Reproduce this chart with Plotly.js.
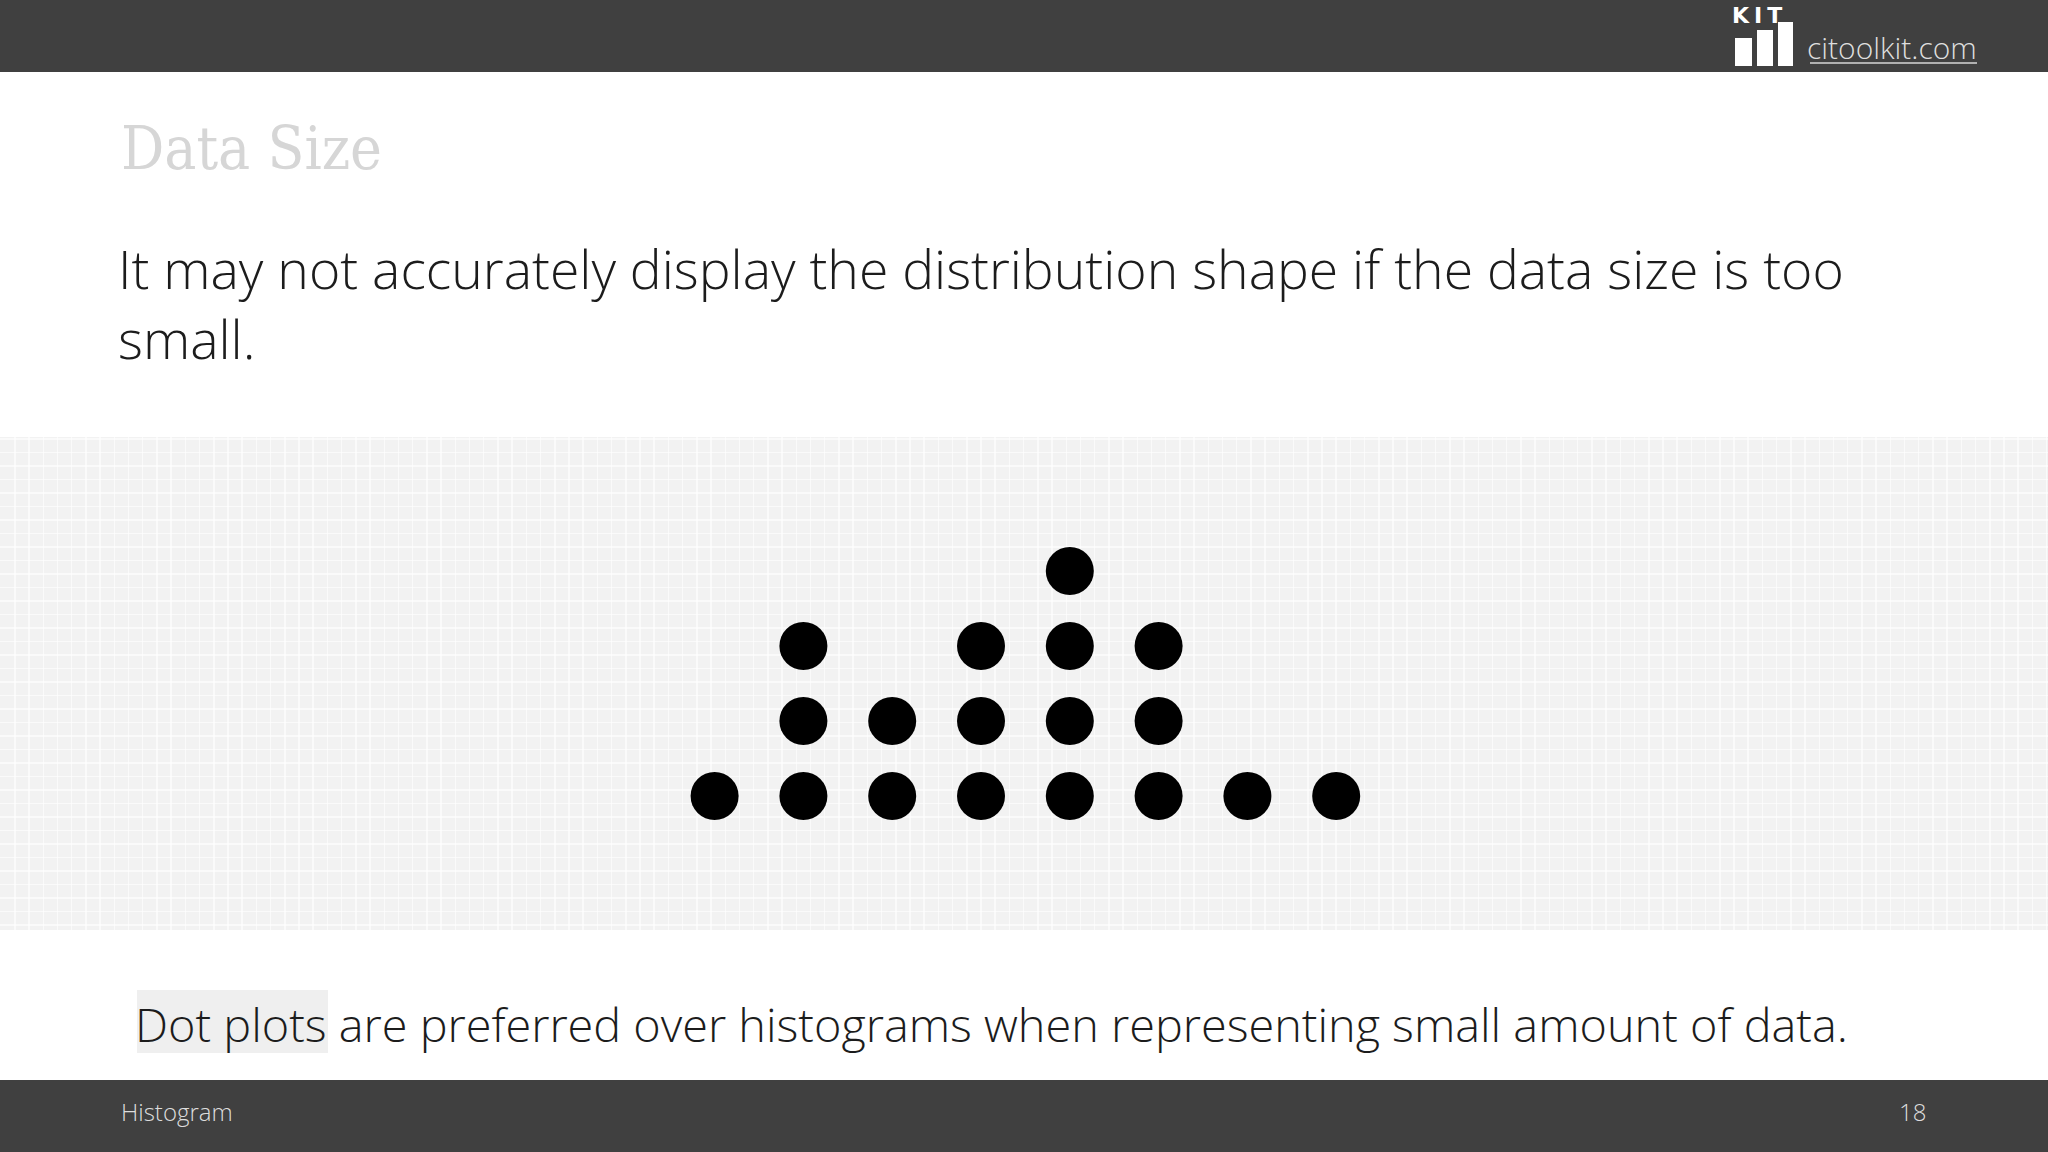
<!DOCTYPE html>
<html>
<head>
<meta charset="utf-8">
<script src="https://cdn.plot.ly/plotly-3.0.1.min.js"></script>
<style>
html,body{margin:0;padding:0;background:#fff;}
#chart{width:2048px;height:1152px;}
</style>
</head>
<body>
<div id="chart"></div>
<script>
// ---- data ----
var bins = [1, 2, 3, 4, 5, 6, 7, 8];
var counts = [1, 3, 2, 3, 4, 3, 1, 1];

var titleText = "Data Size";
var bodyLine1 = "It may not accurately display the distribution shape if the data size is too";
var bodyLine2 = "small.";
var highlightWord = "Dot plots";
var noteRest = " are preferred over histograms when representing small amount of data.";
var footerLeft = "Histogram";
var pageNumber = "18";
var siteText = "citoolkit.com";
var logoText = "KIT";

// build dot stacks from the counts
var dotX = [], dotY = [];
for (var i = 0; i < bins.length; i++) {
  for (var k = 1; k <= counts[i]; k++) { dotX.push(bins[i]); dotY.push(k); }
}

// layout geometry (pixels)
var W = 2048, H = 1152, panelTop = 437, panelBottom = 930;
function py(p) { return (panelBottom - p) / (panelBottom - panelTop); }
function px(p) { return p / W; }

function rect(x0, y0, x1, y1, color) {
  return {type: 'rect', xref: 'paper', yref: 'paper', x0: px(x0), x1: px(x1), y0: py(y1), y1: py(y0),
          fillcolor: color, line: {width: 0}, layer: 'above'};
}
function note(text, x, y, size, color, opts) {
  var a = {text: text, xref: 'paper', yref: 'paper', x: px(x), y: py(y), xanchor: 'left', yanchor: 'middle',
           showarrow: false, font: {family: 'Open Sans', size: size, color: color, weight: 300}};
  if (opts) { for (var key in opts) { if (key === 'font') { for (var f in opts.font) a.font[f] = opts.font[f]; } else a[key] = opts[key]; } }
  return a;
}

var shapes = [
  rect(0, 0, W, 72, '#404040'),
  rect(0, 1080, W, H, '#404040'),
  rect(137, 990, 328, 1053, '#efefef'),
  // logo bars
  rect(1735, 38, 1752, 66, '#ffffff'),
  rect(1757, 30, 1773, 66, '#ffffff'),
  rect(1778, 22, 1793, 66, '#ffffff'),
  {type: 'line', xref: 'paper', yref: 'paper', x0: px(1810), x1: px(1977), y0: py(63), y1: py(63),
   line: {color: '#d6d6d6', width: 1.5}}
];
shapes[2].layer = 'below';

var annotations = [
  note(titleText, 119, 148, 60, '#d6d6d6', {font: {family: 'DejaVu Serif Condensed, DejaVu Serif', weight: 400}}),
  note(bodyLine1, 116, 268, 53.5, '#1c1c1c'),
  note(bodyLine2, 116, 338, 53.5, '#1c1c1c'),
  note(highlightWord + noteRest, 133, 1024, 46.8, '#1c1c1c'),
  note(footerLeft, 119, 1111, 24, '#dddddd'),
  note(pageNumber, 1912, 1111, 24, '#dddddd', {xanchor: 'center'}),
  note(siteText, 1805, 47, 30, '#dedede'),
  note('<b><span style="letter-spacing:5px">' + logoText + '</span></b>', 1731, 15.5, 22, '#ffffff',
       {borderpad: 0, font: {family: 'DejaVu Sans', weight: 700}})
];

var trace = {
  type: 'scatter', mode: 'markers', x: dotX, y: dotY,
  marker: {size: 48, color: '#000000', line: {width: 0}},
  hoverinfo: 'skip', showlegend: false
};

var xUnit = 88.8, yUnit = 75, x1Pix = 714.6, y1Pix = 796;
var layout = {
  width: W, height: H,
  margin: {l: 0, r: 0, t: panelTop, b: H - panelBottom, pad: 0},
  paper_bgcolor: '#ffffff', plot_bgcolor: '#f2f2f2',
  xaxis: {range: [1 - x1Pix / xUnit, 1 + (W - x1Pix) / xUnit], showgrid: true, gridcolor: 'rgba(255,255,255,0.6)',
          gridwidth: 1.5, dtick: 0.16, tick0: 0, zeroline: false, showticklabels: false, ticks: '', showline: false, fixedrange: true},
  yaxis: {range: [1 - (panelBottom - y1Pix) / yUnit, 1 + (y1Pix - panelTop) / yUnit], showgrid: true, gridcolor: 'rgba(255,255,255,0.6)',
          gridwidth: 1.5, dtick: 0.18, tick0: 0, zeroline: false, showticklabels: false, ticks: '', showline: false, fixedrange: true},
  shapes: shapes,
  annotations: annotations,
  showlegend: false
};

Plotly.newPlot('chart', [trace], layout, {displayModeBar: false, staticPlot: true});
</script>
</body>
</html>
